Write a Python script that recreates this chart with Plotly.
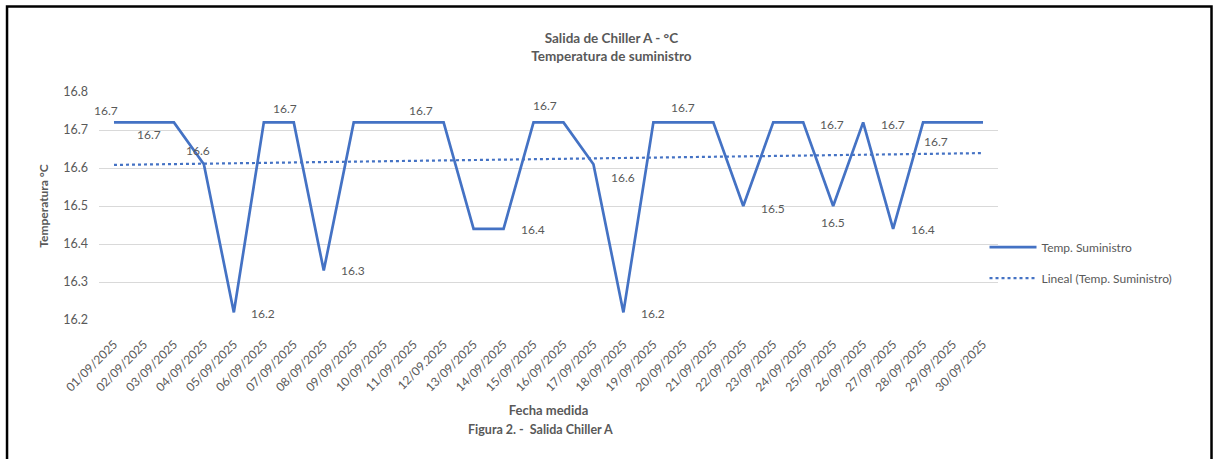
import numpy as np
import plotly.graph_objects as go

# Daily supply temperature readings, September 2025
fechas = [
    "01/09/2025", "02/09/2025", "03/09/2025", "04/09/2025", "05/09/2025",
    "06/09/2025", "07/09/2025", "08/09/2025", "09/09/2025", "10/09/2025",
    "11/09/2025", "12/09.2025", "13/09/2025", "14/09/2025", "15/09/2025",
    "16/09/2025", "17/09/2025", "18/09/2025", "19/09/2025", "20/09/2025",
    "21/09/2025", "22/09/2025", "23/09/2025", "24/09/2025", "25/09/2025",
    "26/09/2025", "27/09/2025", "28/09/2025", "29/09/2025", "30/09/2025",
]
temp_suministro = [
    16.72, 16.72, 16.72, 16.61, 16.22, 16.72, 16.72, 16.33, 16.72, 16.72,
    16.72, 16.72, 16.44, 16.44, 16.72, 16.72, 16.61, 16.22, 16.72, 16.72,
    16.72, 16.50, 16.72, 16.72, 16.50, 16.72, 16.44, 16.72, 16.72, 16.72,
]
y_ticks = [16.2, 16.3, 16.4, 16.5, 16.6, 16.7, 16.8]

# Which points carry a value label, and where the label sits (dx, dy in px)
etiquetas = {
    0: (-8, 12), 1: (5, -12), 3: (-6, 14), 4: (29, -1), 6: (-9, 14),
    7: (29, 0), 10: (7, 12), 13: (29, -1), 14: (11, 17), 16: (30, -13),
    17: (30, -1), 19: (0, 15), 21: (30, -2), 23: (29, -2), 24: (0, -16),
    25: (30, -2), 26: (30, -1), 27: (13, -19),
}

FONT = "Lato, 'Open Sans', sans-serif"
GRIS = "#595959"
AZUL = "#4472C4"

x_idx = np.arange(len(fechas))
pend, corte = np.polyfit(x_idx, temp_suministro, 1)
tendencia = pend * x_idx + corte

fig = go.Figure()
fig.add_trace(go.Scatter(
    x=fechas, y=temp_suministro, mode="lines", name="Temp. Suministro",
    legendgroup="serie", line=dict(color=AZUL, width=2.7),
))
fig.add_trace(go.Scatter(
    x=fechas, y=tendencia, mode="lines", name="Lineal (Temp. Suministro)",
    legendgroup="tendencia", line=dict(color=AZUL, width=2.2, dash="dot"),
))

for i, (dx, dy) in etiquetas.items():
    fig.add_annotation(
        x=fechas[i], y=temp_suministro[i], text=f"{temp_suministro[i]:.1f}",
        showarrow=False, xshift=dx, yshift=dy,
        font=dict(family=FONT, size=12, color=GRIS),
    )

# Caption under the axis title
fig.add_annotation(
    x=0.491, y=-0.482, xref="paper", yref="paper", yanchor="middle",
    text="<b>Figura 2. -  Salida Chiller A</b>", showarrow=False,
    font=dict(family=FONT, size=12.5, color=GRIS),
)

# Outer frame of the chart
fig.add_shape(
    type="rect", xref="paper", yref="paper",
    x0=-0.1023, x1=1.2375, y0=-0.70, y1=1.375,
    line=dict(color="black", width=2.5), fillcolor="rgba(0,0,0,0)", layer="above",
)

fig.update_layout(
    width=1218, height=459,
    margin=dict(l=99, r=220, t=92, b=139),
    paper_bgcolor="white", plot_bgcolor="white",
    font=dict(family=FONT, size=12, color=GRIS),
    title=dict(
        text="<b>Salida de Chiller A - °C<br>Temperatura de suministro</b>",
        x=0.502, xanchor="center", y=0.906, yanchor="middle",
        font=dict(family=FONT, size=13.5, color=GRIS),
    ),
    showlegend=True,
    legend=dict(
        x=0.985, xanchor="left", y=0.252, yanchor="middle",
        font=dict(family=FONT, size=12, color=GRIS),
        bgcolor="rgba(0,0,0,0)", tracegroupgap=12, itemwidth=47,
    ),
    xaxis=dict(
        type="category", range=[-0.5, len(fechas) - 0.5],
        tickangle=-45, showgrid=False, showline=False, ticks="",
        ticklabelstandoff=14,
        tickfont=dict(family=FONT, size=12, color=GRIS),
        title=dict(text="<b>Fecha medida</b>", standoff=12,
                   font=dict(family=FONT, size=13, color=GRIS)),
    ),
    yaxis=dict(
        range=[16.2, 16.8], tickvals=y_ticks,
        ticktext=[f"{v:.1f}" for v in y_ticks],
        showgrid=True, gridcolor="#D9D9D9", gridwidth=1.3, zeroline=False,
        showline=False, ticks="", ticklabelstandoff=10,
        tickfont=dict(family=FONT, size=12.5, color=GRIS),
        title=dict(text="<b>Temperatura °C</b>", standoff=12,
                   font=dict(family=FONT, size=12, color=GRIS)),
    ),
)

fig.write_html("out.html")
